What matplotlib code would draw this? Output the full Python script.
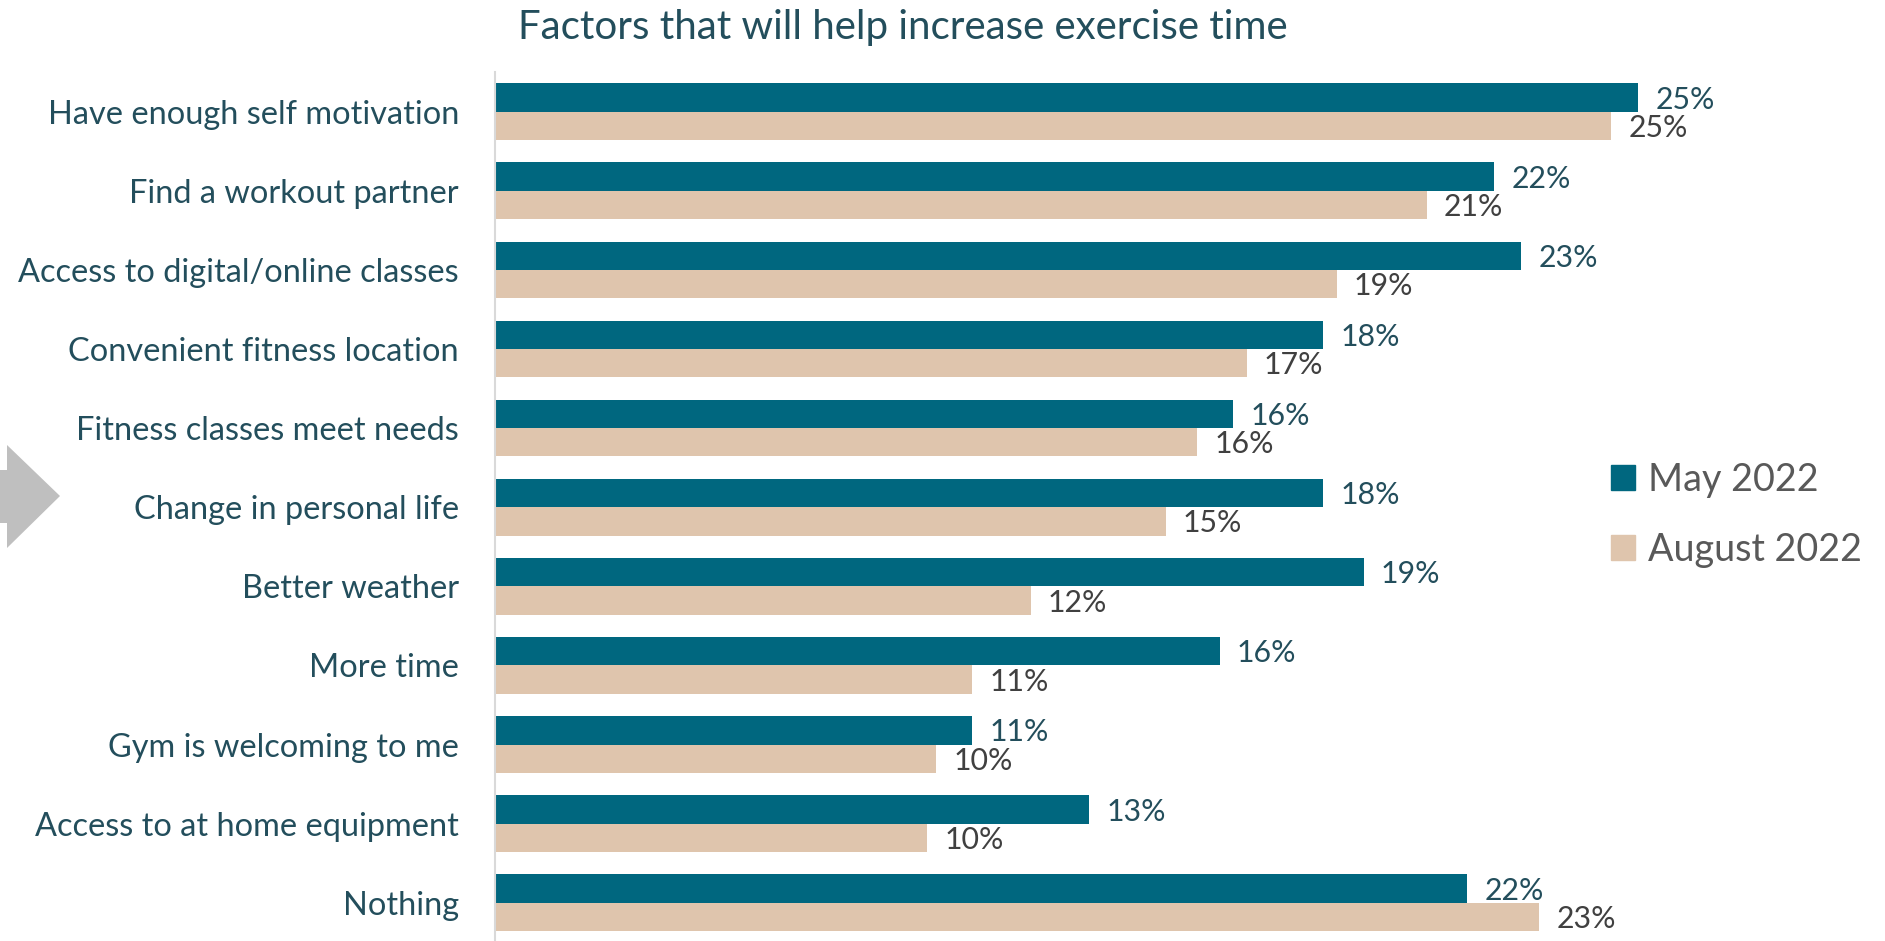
import matplotlib
matplotlib.use("Agg")
import matplotlib.pyplot as plt
from matplotlib.patches import Polygon, Patch

plt.rcParams['font.family'] = ['Lato', 'DejaVu Sans']

factors = [
    "Have enough self motivation",
    "Find a workout partner",
    "Access to digital/online classes",
    "Convenient fitness location",
    "Fitness classes meet needs",
    "Change in personal life",
    "Better weather",
    "More time",
    "Gym is welcoming to me",
    "Access to at home equipment",
    "Nothing",
]
may_2022 = [25.4, 22.2, 22.8, 18.4, 16.4, 18.4, 19.3, 16.1, 10.6, 13.2, 21.6]
aug_2022 = [24.8, 20.7, 18.7, 16.7, 15.6, 14.9, 11.9, 10.6, 9.8, 9.6, 23.2]
series_names = ["May 2022", "August 2022"]

MAY_COLOR = '#00677f'
AUG_COLOR = '#dfc5ad'
LABEL_COLOR = '#234e5c'
AUG_TEXT = '#404040'
LEGEND_TEXT = '#595959'

W, H = 1885, 941
fig = plt.figure(figsize=(W / 100, H / 100), dpi=100)
ax = fig.add_axes([495 / W, 0, 1350 / W, 1 - 72 / H])

bar_h = 0.358
ypos = list(range(len(factors)))
may_y = [y - bar_h / 2 for y in ypos]
aug_y = [y + bar_h / 2 for y in ypos]
ax.barh(may_y, may_2022, height=bar_h, color=MAY_COLOR)
ax.barh(aug_y, aug_2022, height=bar_h, color=AUG_COLOR)

# value labels just past the end of each bar
for y, v in zip(may_y, may_2022):
    ax.annotate(f"{v:.0f}%", (v, y), xytext=(12.5, -1.5), textcoords='offset points',
                va='center', ha='left', fontsize=21.8, color=LABEL_COLOR)
for y, v in zip(aug_y, aug_2022):
    ax.annotate(f"{v:.0f}%", (v, y), xytext=(12.5, -1.5), textcoords='offset points',
                va='center', ha='left', fontsize=21.8, color=AUG_TEXT)

ax.set_xlim(0, 30)
ax.set_ylim(10.484, -0.502)
ax.set_yticks(ypos)
ax.set_yticklabels(factors, fontsize=23.4, color=LABEL_COLOR)
ax.tick_params(axis='y', length=0, pad=26)
ax.set_xticks([])
for side in ['top', 'right', 'bottom']:
    ax.spines[side].set_visible(False)
ax.spines['left'].set_color('#d9d9d9')
ax.spines['left'].set_linewidth(1.5)

fig.text(903 / W, 1 - 28 / H, "Factors that will help increase exercise time",
         ha='center', va='center', fontsize=29, color=LABEL_COLOR)

handles = [Patch(color=MAY_COLOR), Patch(color=AUG_COLOR)]
leg = fig.legend(handles, series_names, loc='center left',
                 bbox_to_anchor=(1611 / W, 1 - 515 / H), frameon=False,
                 borderpad=0, borderaxespad=0,
                 fontsize=27.2, handlelength=0.63, handleheight=0.63,
                 handletextpad=0.34, labelspacing=0.9)
for t in leg.get_texts():
    t.set_color(LEGEND_TEXT)

# grey pointer arrow at the left edge
arrow = Polygon([(0, 1 - 470 / H), (7 / W, 1 - 470 / H), (7 / W, 1 - 445 / H),
                 (60 / W, 1 - 496 / H), (7 / W, 1 - 548 / H), (7 / W, 1 - 523 / H),
                 (0, 1 - 523 / H)], closed=True, transform=fig.transFigure,
                facecolor='#bfbfbf', edgecolor='none')
fig.patches.append(arrow)

fig.savefig("out.png", dpi=100)
